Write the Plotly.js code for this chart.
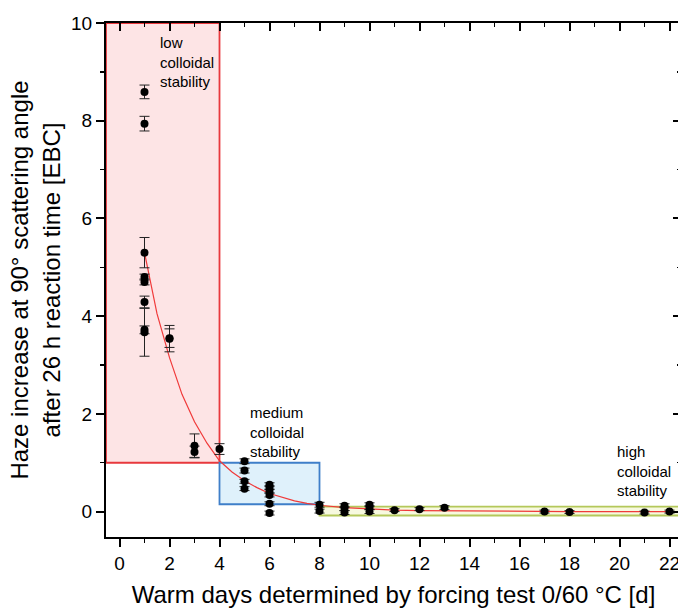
<!DOCTYPE html>
<html>
<head>
<meta charset="utf-8">
<script src="https://cdn.plot.ly/plotly-3.0.1.min.js"></script>
<style>
html,body{margin:0;padding:0;overflow:hidden;background:#fff;}
#chart{width:684px;height:608px;}
</style>
</head>
<body>
<div id="chart"></div>
<script>
// Measured points: warm days (x) vs haze increase (y) with error
const warmDays = [1,1,1,1,1,1,1,1, 2,2, 3,3, 4, 5,5,5,5, 6,6,6,6,6,6, 8,8, 9,9,9, 10,10,10, 11, 12, 13, 17, 18, 21, 22];
const hazeIncrease = [8.59,7.94,5.30,4.80,4.70,4.29,3.72,3.67, 3.54,3.55, 1.35,1.22, 1.28, 1.03,0.84,0.62,0.47, 0.55,0.49,0.42,0.34,0.16,-0.03, 0.14,0.01, 0.12,0.06,-0.02, 0.14,0.08,0.00, 0.03,0.05,0.08, 0.00,-0.01,-0.02,0.00];
const hazeError = [0.14,0.15,0.31,0.06,0.06,0.12,0.08,0.49, 0.27,0.19, 0.24,0.12, 0.11, 0.05,0.05,0.04,0.04, 0.04,0.04,0.04,0.04,0.04,0.04, 0.05,0.04, 0.04,0.04,0.04, 0.04,0.04,0.04, 0.03,0.03,0.04, 0.03,0.03,0.03,0.03];

// Fitted decay curve
const fitDays = [1, 1.5, 2, 2.5, 3, 3.5, 4, 4.5, 5, 5.5, 6, 6.5, 7, 7.5, 8, 9, 10, 11, 12, 14, 16, 18, 20, 22.5];
const fitHaze = [5.30, 4.05, 3.15, 2.40, 1.84, 1.40, 1.04, 0.81, 0.63, 0.49, 0.37, 0.29, 0.22, 0.17, 0.13, 0.08, 0.05, 0.03, 0.02, 0.01, 0.0, 0.0, 0.0, 0.0];

// Stability zones: [xStart, xEnd, yLow, yHigh]
const lowZone = [-0.54, 4, 1, 10];
const mediumZone = [4, 8, 0.15, 1];
const highZone = [8, 23, -0.08, 0.1];
const zoneLabels = ['low<br>colloidal<br>stability', 'medium<br>colloidal<br>stability', 'high<br>colloidal<br>stability'];

const FONT = '"Liberation Sans", Arial, Helvetica, sans-serif';
const xRange = [-0.54, 22.46];
const yRange = [-0.52, 10];

const traces = [
  {
    x: fitDays, y: fitHaze, type: 'scatter', mode: 'lines',
    line: {color: '#f03a3a', width: 1.2}, hoverinfo: 'skip'
  },
  {
    x: warmDays, y: hazeIncrease, type: 'scatter', mode: 'markers',
    marker: {color: '#000', size: 8},
    error_y: {type: 'data', array: hazeError, visible: true, color: '#222', thickness: 1, width: 5}
  },
  {x: [], y: [], xaxis: 'x2', yaxis: 'y2', type: 'scatter', mode: 'markers'}
];

function rect(z, fill, line) {
  return {type: 'rect', xref: 'x', yref: 'y', x0: z[0], x1: z[1], y0: z[2], y1: z[3],
          fillcolor: fill, line: {color: line, width: 1.8}, layer: 'below'};
}

const layout = {
  width: 684, height: 608,
  margin: {l: 106, r: 3, t: 23, b: 71},
  paper_bgcolor: '#fff', plot_bgcolor: '#fff',
  showlegend: false,
  font: {family: FONT, color: '#000'},
  xaxis: {
    range: xRange, dtick: 2, tick0: 0, showgrid: false, zeroline: false,
    showline: true, linecolor: '#000', linewidth: 2,
    ticks: 'outside', ticklen: 8, tickwidth: 2, tickcolor: '#000',
    minor: {dtick: 1, tick0: 0, ticks: 'outside', ticklen: 4, tickwidth: 1.5, tickcolor: '#000', showgrid: false},
    tickfont: {size: 19, family: FONT},
    title: {text: 'Warm days determined by forcing test 0/60 °C [d]', font: {size: 24, family: FONT}, standoff: 14}
  },
  yaxis: {
    range: yRange, dtick: 2, tick0: 0, showgrid: false, zeroline: false,
    showline: true, linecolor: '#000', linewidth: 2,
    ticks: 'outside', ticklen: 8, tickwidth: 2, tickcolor: '#000',
    minor: {dtick: 1, tick0: 0, ticks: 'outside', ticklen: 4, tickwidth: 1.5, tickcolor: '#000', showgrid: false},
    tickfont: {size: 19, family: FONT},
    title: {text: 'Haze increase at 90° scattering angle<br>after 26 h reaction time [EBC]', font: {size: 24, family: FONT}, standoff: 4}
  },
  xaxis2: {
    overlaying: 'x', anchor: 'y2', side: 'top', range: xRange, dtick: 2, tick0: 0,
    showgrid: false, zeroline: false, showticklabels: false,
    showline: true, linecolor: '#000', linewidth: 2,
    ticks: 'inside', ticklen: 8, tickwidth: 2, tickcolor: '#000',
    minor: {dtick: 1, tick0: 0, ticks: 'inside', ticklen: 4, tickwidth: 1.5, tickcolor: '#000', showgrid: false}
  },
  yaxis2: {
    overlaying: 'y', anchor: 'x2', side: 'right', range: yRange, dtick: 2, tick0: 0,
    showgrid: false, zeroline: false, showticklabels: false,
    showline: true, linecolor: '#000', linewidth: 2,
    ticks: 'inside', ticklen: 8, tickwidth: 2, tickcolor: '#000',
    minor: {dtick: 1, tick0: 0, ticks: 'inside', ticklen: 4, tickwidth: 1.5, tickcolor: '#000', showgrid: false}
  },
  shapes: [
    rect(lowZone, '#fde4e5', '#e8383d'),
    rect(mediumZone, '#dff1fb', '#3f7fc9'),
    rect(highZone, '#f7f9df', '#b4c85a')
  ],
  annotations: [
    {x: 1.52, y: 9.82, xref: 'x', yref: 'y', text: zoneLabels[0], showarrow: false, xanchor: 'left', yanchor: 'top', align: 'left', font: {size: 15, family: FONT}},
    {x: 5.12, y: 2.25, xref: 'x', yref: 'y', text: zoneLabels[1], showarrow: false, xanchor: 'left', yanchor: 'top', align: 'left', font: {size: 15, family: FONT}},
    {x: 19.8, y: 1.45, xref: 'x', yref: 'y', text: zoneLabels[2], showarrow: false, xanchor: 'left', yanchor: 'top', align: 'left', font: {size: 15, family: FONT}}
  ]
};

Plotly.newPlot('chart', traces, layout, {displayModeBar: false, staticPlot: true});
</script>
</body>
</html>
